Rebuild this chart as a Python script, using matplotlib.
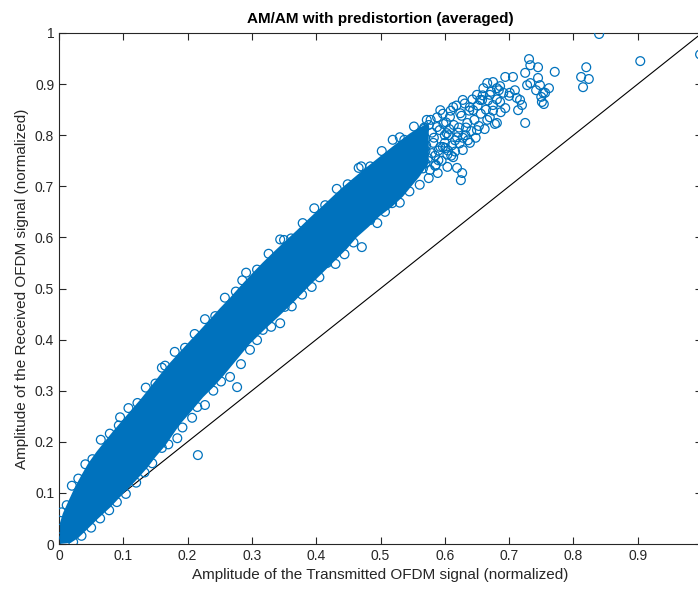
import matplotlib
matplotlib.use("Agg")
import matplotlib.pyplot as plt
import numpy as np

plt.rcParams['font.family'] = ['Liberation Sans', 'DejaVu Sans']

# solid core of the cloud: upper edge then lower edge
core_up_x = [0.000, 0.006, 0.015, 0.025, 0.035, 0.045, 0.058, 0.072, 0.085, 0.100,
             0.115, 0.128, 0.142, 0.157, 0.172, 0.188, 0.204, 0.219, 0.235, 0.250,
             0.266, 0.283, 0.300, 0.317, 0.335, 0.352, 0.370, 0.388, 0.406, 0.423,
             0.440, 0.457, 0.475, 0.493, 0.510, 0.528, 0.545, 0.560, 0.575]
core_up_y = [0.035, 0.060, 0.085, 0.112, 0.135, 0.157, 0.180, 0.202, 0.222, 0.244,
             0.266, 0.285, 0.307, 0.331, 0.354, 0.376, 0.398, 0.418, 0.440, 0.461,
             0.482, 0.506, 0.529, 0.551, 0.573, 0.593, 0.614, 0.636, 0.657, 0.677,
             0.697, 0.715, 0.734, 0.752, 0.769, 0.787, 0.803, 0.815, 0.823]
core_lo_x = [0.575, 0.560, 0.548, 0.535, 0.518, 0.499, 0.481, 0.463, 0.448, 0.432,
             0.411, 0.390, 0.367, 0.344, 0.320, 0.297, 0.276, 0.255, 0.240, 0.224,
             0.206, 0.188, 0.176, 0.165, 0.150, 0.138, 0.118, 0.098, 0.080, 0.061,
             0.045, 0.030, 0.018, 0.000]
core_lo_y = [0.745, 0.718, 0.700, 0.680, 0.660, 0.642, 0.620, 0.600, 0.578, 0.558,
             0.532, 0.506, 0.476, 0.448, 0.420, 0.392, 0.360, 0.328, 0.307, 0.287,
             0.260, 0.234, 0.212, 0.192, 0.170, 0.150, 0.122, 0.096, 0.072, 0.050,
             0.030, 0.012, 0.002, 0.000]

# individual samples visible on the fringes and in the tail
up_x = [0.004, 0.012, 0.020, 0.030, 0.041, 0.052, 0.065, 0.079, 0.093, 0.108,
        0.122, 0.135, 0.150, 0.165, 0.180, 0.196, 0.211, 0.227, 0.243, 0.258,
        0.275, 0.291, 0.308, 0.326, 0.344, 0.361, 0.379, 0.397, 0.414, 0.432,
        0.449, 0.466, 0.484, 0.502, 0.519, 0.537, 0.552, 0.095, 0.160, 0.285,
        0.350, 0.470, 0.530, 0.002, 0.008]
up_y = [0.062, 0.076, 0.114, 0.128, 0.156, 0.166, 0.204, 0.216, 0.232, 0.266,
        0.276, 0.306, 0.314, 0.349, 0.376, 0.384, 0.411, 0.440, 0.446, 0.482,
        0.494, 0.531, 0.537, 0.568, 0.596, 0.598, 0.628, 0.657, 0.663, 0.695,
        0.704, 0.736, 0.739, 0.769, 0.791, 0.791, 0.817, 0.248, 0.345, 0.516,
        0.595, 0.739, 0.796, 0.030, 0.012]
lo_x = [0.022, 0.035, 0.050, 0.064, 0.078, 0.090, 0.104, 0.120, 0.133, 0.145,
        0.160, 0.170, 0.184, 0.192, 0.207, 0.215, 0.227, 0.240, 0.252, 0.266,
        0.277, 0.283, 0.297, 0.308, 0.317, 0.330, 0.344, 0.351, 0.362, 0.378,
        0.393, 0.405, 0.417, 0.430, 0.444, 0.458, 0.471, 0.484, 0.495, 0.507,
        0.518, 0.530, 0.545, 0.561, 0.575, 0.589, 0.604, 0.619, 0.216, 0.625,
        0.627]
lo_y = [0.004, 0.016, 0.032, 0.050, 0.066, 0.082, 0.098, 0.120, 0.140, 0.158,
        0.188, 0.195, 0.207, 0.228, 0.247, 0.268, 0.272, 0.300, 0.318, 0.327,
        0.307, 0.352, 0.380, 0.399, 0.419, 0.425, 0.432, 0.464, 0.465, 0.488,
        0.503, 0.522, 0.550, 0.548, 0.567, 0.590, 0.581, 0.634, 0.628, 0.650,
        0.667, 0.668, 0.690, 0.703, 0.716, 0.726, 0.738, 0.736, 0.174, 0.712,
        0.726]
dense_x = [0.560, 0.562, 0.566, 0.568, 0.571, 0.574, 0.578, 0.580, 0.583, 0.585,
           0.588, 0.590, 0.592, 0.595, 0.597, 0.600, 0.602, 0.604, 0.606, 0.609,
           0.611, 0.614, 0.616, 0.618, 0.621, 0.623, 0.626, 0.628, 0.631, 0.633,
           0.636, 0.638, 0.641, 0.643, 0.646, 0.648, 0.651, 0.653, 0.656, 0.659,
           0.662, 0.664, 0.667, 0.670, 0.672, 0.675, 0.678, 0.681, 0.684, 0.687]
dense_y = [0.760, 0.800, 0.735, 0.815, 0.780, 0.755, 0.830, 0.765, 0.795, 0.740,
           0.835, 0.770, 0.810, 0.750, 0.842, 0.785, 0.825, 0.762, 0.800, 0.848,
           0.780, 0.820, 0.768, 0.858, 0.805, 0.784, 0.838, 0.795, 0.862, 0.815,
           0.790, 0.848, 0.808, 0.870, 0.830, 0.795, 0.858, 0.818, 0.842, 0.878,
           0.812, 0.850, 0.868, 0.835, 0.885, 0.848, 0.822, 0.870, 0.888, 0.845]
tail_x = [0.565, 0.570, 0.572, 0.577, 0.580, 0.582, 0.585, 0.588, 0.590, 0.593,
          0.593, 0.597, 0.600, 0.603, 0.605, 0.608, 0.610, 0.613, 0.613, 0.616,
          0.619, 0.622, 0.624, 0.628, 0.628, 0.632, 0.635, 0.639, 0.639, 0.644,
          0.650, 0.650, 0.655, 0.658, 0.660, 0.666, 0.666, 0.670, 0.675, 0.675,
          0.681, 0.681, 0.686, 0.686, 0.691, 0.694, 0.694, 0.700, 0.701, 0.706,
          0.709, 0.712, 0.714, 0.717, 0.720, 0.725, 0.725, 0.728, 0.731, 0.733,
          0.733, 0.742, 0.745, 0.745, 0.748, 0.750, 0.751, 0.753, 0.754, 0.756,
          0.762, 0.771, 0.812, 0.815, 0.820, 0.824, 0.840, 0.904, 0.997, 0.567,
          0.575, 0.598, 0.607, 0.570, 0.586, 0.601]
tail_y = [0.790, 0.770, 0.830, 0.732, 0.805, 0.785, 0.760, 0.816, 0.751, 0.849,
          0.777, 0.777, 0.800, 0.804, 0.770, 0.836, 0.760, 0.855, 0.757, 0.790,
          0.796, 0.815, 0.843, 0.771, 0.869, 0.800, 0.824, 0.785, 0.855, 0.849,
          0.810, 0.879, 0.869, 0.869, 0.892, 0.830, 0.902, 0.879, 0.904, 0.859,
          0.892, 0.824, 0.865, 0.896, 0.883, 0.853, 0.914, 0.877, 0.883, 0.914,
          0.888, 0.873, 0.849, 0.869, 0.859, 0.922, 0.824, 0.898, 0.949, 0.937,
          0.902, 0.888, 0.933, 0.912, 0.898, 0.875, 0.865, 0.883, 0.861, 0.883,
          0.892, 0.924, 0.914, 0.894, 0.933, 0.910, 0.998, 0.945, 0.958, 0.812,
          0.820, 0.822, 0.812, 0.745, 0.742, 0.775]

blue = '#0072BD'
grey = '#262626'

fig = plt.figure(figsize=(6.98, 5.90), dpi=100)
ax = fig.add_axes([59 / 698, 46 / 590, 643 / 698, 511 / 590])

ax.fill(core_up_x + core_lo_x, core_up_y + core_lo_y, color=blue, lw=0, zorder=2)
for xs, ys in [(up_x, up_y), (lo_x, lo_y), (dense_x, dense_y), (tail_x, tail_y)]:
    ax.scatter(xs, ys, s=40, facecolors='none', edgecolors=blue, linewidths=0.9, zorder=3)
ax.plot([0, 1], [0, 1], color='black', lw=0.8, zorder=1)

ax.set_xlim(0, 1)
ax.set_ylim(0, 1)
ax.set_xticks(np.arange(0, 1.01, 0.1))
ax.set_yticks(np.arange(0, 1.01, 0.1))
ax.set_xticklabels(['0', '0.1', '0.2', '0.3', '0.4', '0.5', '0.6', '0.7', '0.8', '0.9', '1'])
ax.set_yticklabels(['0', '0.1', '0.2', '0.3', '0.4', '0.5', '0.6', '0.7', '0.8', '0.9', '1'])
ax.tick_params(direction='in', top=True, right=True, length=5, width=0.8,
               color=grey, labelcolor=grey, labelsize=10)
for sp in ax.spines.values():
    sp.set_color(grey)
    sp.set_linewidth(0.8)

ax.set_title('AM/AM with predistortion (averaged)', fontsize=11, fontweight='bold', pad=7)
ax.set_xlabel('Amplitude of the Transmitted OFDM signal (normalized)', fontsize=11, color=grey)
ax.set_ylabel('Amplitude of the Received OFDM signal (normalized)', fontsize=11, color=grey)

fig.savefig('out.png', dpi=100)
